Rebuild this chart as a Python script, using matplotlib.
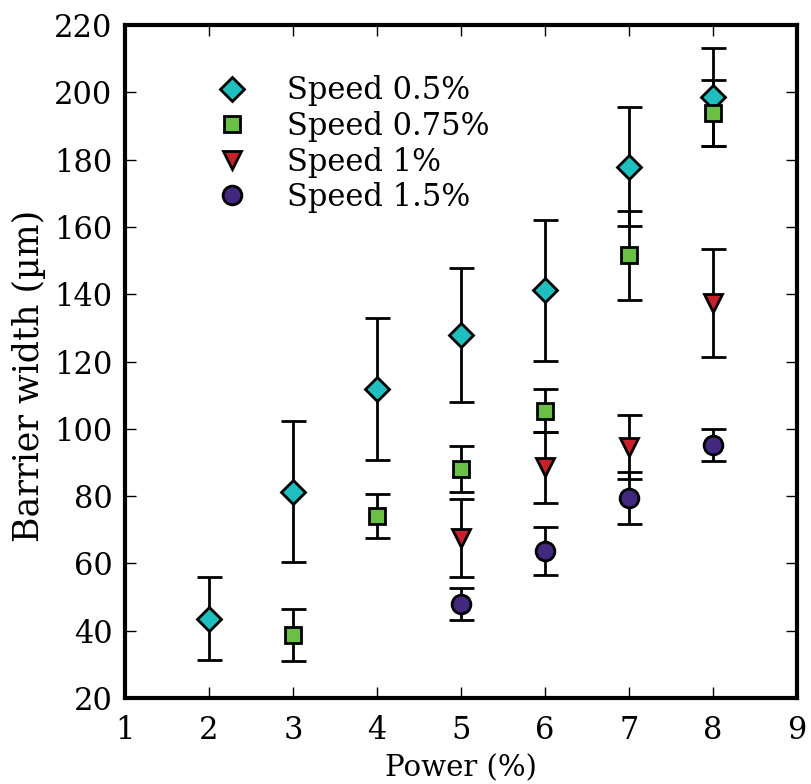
import matplotlib
matplotlib.use("Agg")
import matplotlib.pyplot as plt

plt.rcParams['font.family'] = ['DejaVu Serif']
plt.rcParams['font.size'] = 22

# Speed 0.5 %
p05 = [2, 3, 4, 5, 6, 7, 8]
w05 = [43.6, 81.3, 111.8, 127.9, 141.2, 177.9, 198.7]
e05 = [12.3, 21.0, 21.0, 20.0, 21.0, 17.6, 14.6]

# Speed 0.75 %
p075 = [3, 4, 5, 6, 7, 8]
w075 = [38.7, 74.1, 88.1, 105.4, 151.6, 193.8]
e075 = [7.8, 6.6, 6.8, 6.3, 13.2, 9.8]

# Speed 1 %
p1 = [5, 6, 7, 8]
w1 = [67.5, 88.5, 94.5, 137.3]
e1 = [11.5, 10.5, 9.5, 16.0]

# Speed 1.5 %
p15 = [5, 6, 7, 8]
w15 = [47.9, 63.7, 79.4, 95.2]
e15 = [4.8, 7.0, 7.8, 4.8]

series = [
    (p05, w05, e05, 'D', '#1fbfbf', 'Speed 0.5%', 12),
    (p075, w075, e075, 's', '#6abf45', 'Speed 0.75%', 12),
    (p1, w1, e1, 'v', '#c8202a', 'Speed 1%', 13),
    (p15, w15, e15, 'o', '#42287f', 'Speed 1.5%', 13.5),
]

fig = plt.figure(figsize=(8.12, 7.84), dpi=100)
ax = fig.add_axes([0.154, 0.1097, 0.8275, 0.8584])

# error bars first, markers on top
for x, y, e, m, c, lab, ms in series:
    ax.errorbar(x, y, yerr=e, fmt='none', ecolor='black', elinewidth=2,
                capsize=9, capthick=2, zorder=2)
for x, y, e, m, c, lab, ms in series:
    ax.plot(x, y, linestyle='none', marker=m, markersize=ms,
            markerfacecolor=c, markeredgecolor='black', markeredgewidth=2,
            label=lab, zorder=3)

ax.set_xlim(1, 9)
ax.set_ylim(20, 220)
ax.set_xticks(range(1, 10))
ax.set_yticks(range(20, 221, 20))
ax.set_xlabel('Power (%)', fontsize=21, labelpad=6)
ax.set_ylabel('Barrier width (\u00b5m)', fontsize=25, labelpad=6)
ax.yaxis.label.set_y(0.478)

for s in ax.spines.values():
    s.set_linewidth(3)
ax.tick_params(direction='in', top=True, right=True, length=8, width=1)
ax.tick_params(axis='x', pad=12)
ax.tick_params(axis='y', pad=9)

ax.legend(loc='upper left', bbox_to_anchor=(0.095, 0.966), frameon=False,
          numpoints=1, handletextpad=1.3, labelspacing=0.15,
          handlelength=1.0)

fig.savefig('out.png', dpi=100)
